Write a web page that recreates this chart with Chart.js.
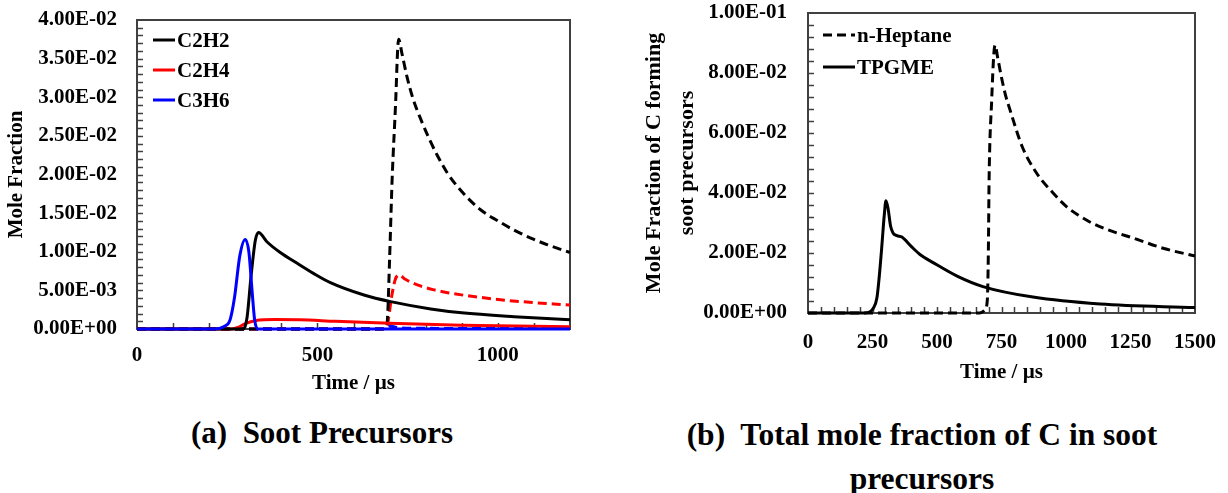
<!DOCTYPE html>
<html>
<head>
<meta charset="utf-8">
<script src="https://cdn.jsdelivr.net/npm/chart.js@4.4.0/dist/chart.umd.min.js"></script>
<style>
  html, body { margin: 0; padding: 0; background: #fff; }
  body { width: 1228px; height: 493px; position: relative; overflow: hidden;
         font-family: "Liberation Serif", "Times New Roman", serif; font-weight: bold; color: #000; }
  canvas { position: absolute; top: 0; }
  #leftChart { left: 0; }
  #rightChart { left: 620px; }
  .legend .row { position: absolute; height: 24px; display: flex; align-items: center;
                 white-space: nowrap; font-size: 21px; }
  .legend svg { margin-right: 2px; }
  .caption { position: absolute; font-size: 31px; text-align: center; white-space: pre; line-height: 44px; }
</style>
</head>
<body>
<canvas id="leftChart" width="600" height="400"></canvas>
<canvas id="rightChart" width="608" height="400"></canvas>
<div class="legend" id="leftLegend"></div>
<div class="legend" id="rightLegend"></div>
<div class="caption" style="left:122px; top:411px; width:400px;">(a)  Soot Precursors</div>
<div class="caption" style="left:667px; top:413px; width:510px; font-size:31.5px;">(b)  Total mole fraction of C in soot
precursors</div>

<script>
// ---- (a) soot precursors, time in µs ----
const c2h2Time = [0, 295, 305, 316, 328, 337, 360, 397, 444, 489, 536, 629, 703, 814, 900, 1045, 1200];
const c2h2Vals = [0, 0, 0.0015, 0.0068, 0.0115, 0.0125, 0.0113, 0.0099, 0.0085, 0.0072, 0.0060, 0.0044, 0.00354, 0.0026, 0.0021, 0.0016, 0.0012];

const c2h4Time = [0, 262, 280, 300, 330, 380, 450, 550, 700, 900, 1200];
const c2h4Vals = [0, 0, 0.0002, 0.0007, 0.0011, 0.00122, 0.0012, 0.0010, 0.00075, 0.0005, 0.0003];

const c3h6Time = [0, 215, 240, 258, 270, 285, 300, 310, 318, 326, 335, 1200];
const c3h6Vals = [0, 0, 0.0003, 0.0012, 0.004, 0.0095, 0.0116, 0.0100, 0.0055, 0.0012, 0, 0];

// dashed curves (second fuel, no legend entry)
const c2h2bTime = [0, 680, 690, 694, 700, 707, 717, 722, 725, 735, 749, 765, 786, 810, 832, 860, 900, 953, 1000, 1045, 1100, 1138, 1200];
const c2h2bVals = [0, 0, 0.0003, 0.0012, 0.009, 0.0193, 0.0296, 0.0358, 0.0375, 0.0355, 0.0325, 0.0298, 0.0272, 0.0246, 0.0225, 0.0202, 0.0178, 0.0154, 0.0140, 0.0128, 0.0116, 0.0109, 0.0099];

const c2h4bTime = [0, 685, 695, 705, 715, 725, 745, 777, 820, 861, 950, 1050, 1200];
const c2h4bVals = [0, 0, 0.0008, 0.0040, 0.0063, 0.0070, 0.0064, 0.0057, 0.0051, 0.0047, 0.0041, 0.0036, 0.0031];

const c3h6bTime = [0, 680, 700, 720, 760, 1200];
const c3h6bVals = [0, 0, 0.0004, 0.0002, 0.0001, 0.00005];

// ---- (b) total C in soot precursors ----
const heptaneTime = [0, 665, 686, 695, 699, 702, 712, 720, 725, 735, 750, 765, 783, 830, 887, 950, 1003, 1050, 1100, 1180, 1260, 1380, 1500];
const heptaneVals = [0, 0, 0.001, 0.0043, 0.02, 0.045, 0.071, 0.086, 0.0893, 0.0852, 0.0785, 0.0728, 0.0677, 0.0555, 0.0465, 0.0400, 0.0354, 0.0325, 0.0300, 0.0272, 0.0250, 0.0215, 0.0190];

const tpgmeTime = [0, 220, 240, 253, 267, 276, 285, 296, 302, 310, 320, 330, 345, 364, 400, 434, 485, 580, 678, 872, 1132, 1500];
const tpgmeVals = [0, 0, 0.0004, 0.0016, 0.005, 0.012, 0.021, 0.033, 0.0374, 0.035, 0.029, 0.0266, 0.0258, 0.0253, 0.0222, 0.0195, 0.0168, 0.0122, 0.0088, 0.0053, 0.0030, 0.0018];

// axis ticks
const leftXTicks = [0, 500, 1000];
const leftYTicks = [0, 0.005, 0.01, 0.015, 0.02, 0.025, 0.03, 0.035, 0.04];
const rightXTicks = [0, 250, 500, 750, 1000, 1250, 1500];
const rightYTicks = [0, 0.02, 0.04, 0.06, 0.08, 0.1];

const leftLegendLabels = ['C2H2', 'C2H4', 'C3H6'];
const rightLegendLabels = ['n-Heptane', 'TPGME'];

Chart.defaults.font.family = '"Liberation Serif", "Times New Roman", serif';
Chart.defaults.font.weight = 'bold';
Chart.defaults.font.size = 21;
Chart.defaults.color = '#000';

const DASH = [9, 5];

function series(label, t, v, color, dashed) {
    return {
        label: label,
        data: t.map((tt, i) => ({ x: tt, y: v[i] })),
        borderColor: color,
        backgroundColor: color,
        borderWidth: 3,
        borderDash: dashed ? DASH : [],
        pointRadius: 0,
        cubicInterpolationMode: 'monotone',
        clip: 6
    };
}

function sci(v) {
    if (Math.abs(v) < 1e-12) return '0.00E+00';
    let e = Math.floor(Math.log10(Math.abs(v)) + 1e-9);
    let m = Math.round(v / Math.pow(10, e) * 100) / 100;
    if (m >= 10) { m /= 10; e++; }
    return m.toFixed(2) + 'E' + (e < 0 ? '-' : '+') + String(Math.abs(e)).padStart(2, '0');
}

// frame + inward tick marks, drawn before the lines so curves sit on top
const frameTicks = {
    id: 'frameTicks',
    beforeDatasetsDraw(chart, args, opts) {
        const { ctx, chartArea: a } = chart;
        const xs = chart.scales.x, ys = chart.scales.y;
        ctx.save();
        ctx.strokeStyle = '#404040';
        ctx.lineWidth = 1.5;
        ctx.beginPath();
        const nx = Math.round((xs.max - xs.min) / opts.xStep);
        for (let i = 1; i < nx; i++) {
            const px = Math.round(xs.getPixelForValue(xs.min + i * opts.xStep)) + 0.5;
            ctx.moveTo(px, a.bottom);
            ctx.lineTo(px, a.bottom - opts.len);
        }
        const ny = Math.round((ys.max - ys.min) / opts.yStep);
        for (let i = 1; i < ny; i++) {
            const py = Math.round(ys.getPixelForValue(ys.min + i * opts.yStep)) + 0.5;
            ctx.moveTo(a.left, py);
            ctx.lineTo(a.left + opts.len, py);
        }
        ctx.stroke();
        ctx.lineWidth = 2;
        ctx.strokeRect(a.left, a.top, a.right - a.left, a.bottom - a.top);
        ctx.restore();
    }
};

function fixTicks(list) {
    return s => { s.ticks = list.map(v => ({ value: v })); };
}

function makeChart(id, datasets, cfg) {
    return new Chart(document.getElementById(id), {
        type: 'line',
        data: { datasets: datasets },
        plugins: [frameTicks],
        options: {
            responsive: false,
            animation: false,
            devicePixelRatio: 1,
            layout: { padding: cfg.padding },
            plugins: {
                legend: { display: false },
                tooltip: { enabled: false },
                frameTicks: { xStep: cfg.xMinor, yStep: cfg.yMinor, len: 6 }
            },
            scales: {
                x: {
                    type: 'linear',
                    min: 0, max: cfg.xMax,
                    grid: { display: false, drawTicks: false },
                    border: { display: false },
                    ticks: { padding: cfg.xTickPad, maxRotation: 0, autoSkip: false, callback: v => String(v) },
                    afterBuildTicks: fixTicks(cfg.xTicks),
                    title: { display: true, text: 'Time / µs', padding: { top: 0, bottom: cfg.xTitlePad } },
                    afterFit: s => { s.height = cfg.xHeight; s.paddingLeft = 0; s.paddingRight = 0; }
                },
                y: {
                    min: 0, max: cfg.yMax,
                    grid: { display: false, drawTicks: false },
                    border: { display: false },
                    ticks: { padding: cfg.yTickPad, autoSkip: false, callback: v => sci(v) },
                    afterBuildTicks: fixTicks(cfg.yTicks),
                    title: { display: true, text: cfg.yTitle, font: cfg.yTitleFont,
                             padding: { top: cfg.yTitlePad, bottom: 0 } },
                    afterFit: s => { s.width = cfg.yWidth; s.paddingTop = 0; s.paddingBottom = 0; }
                }
            }
        }
    });
}

function makeLegend(elId, chart, labels, cfg) {
    const box = document.getElementById(elId);
    labels.forEach((lab, i) => {
        const ds = chart.data.datasets.find(d => d.label === lab);
        const row = document.createElement('div');
        row.className = 'row';
        row.style.left = cfg.left + 'px';
        row.style.top = (cfg.top + i * cfg.gap - 12) + 'px';
        const dash = ds.borderDash.length ? ' stroke-dasharray="' + ds.borderDash.join(' ') + '"' : '';
        row.innerHTML = '<svg width="' + cfg.sample + '" height="6"><line x1="0" y1="3" x2="' + cfg.sample +
            '" y2="3" stroke="' + ds.borderColor + '" stroke-width="3"' + dash + '/></svg><span>' + lab + '</span>';
        box.appendChild(row);
    });
}

const leftChart = makeChart('leftChart', [
    series('C3H6', c3h6Time, c3h6Vals, '#0000ff', false),
    series('C2H2', c2h2Time, c2h2Vals, '#000000', false),
    series('C2H4', c2h4Time, c2h4Vals, '#ff0000', false),
    series('C2H2 (dashed)', c2h2bTime, c2h2bVals, '#000000', true),
    series('C2H4 (dashed)', c2h4bTime, c2h4bVals, '#ff0000', true),
    series('C3H6 (dashed)', c3h6bTime, c3h6bVals, '#0000ff', true)
], {
    padding: { top: 20, right: 30, left: 0, bottom: 0 },
    xMax: 1200, xTicks: leftXTicks, xMinor: 100, xTickPad: 14, xTitlePad: 4, xHeight: 71,
    yMax: 0.04, yTicks: leftYTicks, yMinor: 0.001, yTickPad: 20, yWidth: 137,
    yTitle: 'Mole Fraction', yTitlePad: 4, yTitleFont: { size: 21 }
});

const rightChart = makeChart('rightChart', [
    series('TPGME', tpgmeTime, tpgmeVals, '#000000', false),
    series('n-Heptane', heptaneTime, heptaneVals, '#000000', true)
], {
    padding: { top: 13, right: 33, left: 0, bottom: 0 },
    xMax: 1500, xTicks: rightXTicks, xMinor: 50, xTickPad: 17, xTitlePad: 15, xHeight: 87,
    yMax: 0.1, yTicks: rightYTicks, yMinor: 0.004, yTickPad: 21, yWidth: 188,
    yTitle: ['Mole Fraction of C forming', 'soot precursors'], yTitlePad: 18,
    yTitleFont: { size: 22, lineHeight: 1.5 }
});

makeLegend('leftLegend', leftChart, leftLegendLabels, { left: 153, top: 40, gap: 30, sample: 22 });
makeLegend('rightLegend', rightChart, rightLegendLabels, { left: 823, top: 35, gap: 32, sample: 32 });
</script>
</body>
</html>
